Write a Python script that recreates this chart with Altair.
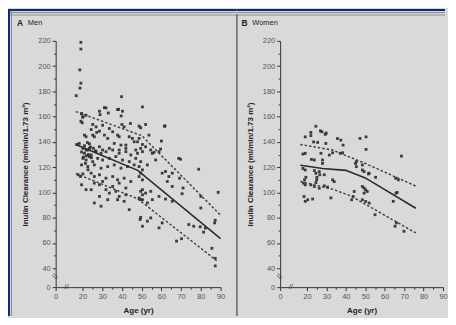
import altair as alt
import pandas as pd

# ---------------- data ----------------
men_age = [18.8, 18.8, 18.0, 18.8, 18.1, 15.3, 39.8, 31.1, 31.9, 50.4, 28.6, 28.9, 33.1, 38.3, 40.3,
           39.6, 19.5, 20.2, 21.8, 18.8, 19.8, 44.3, 25.2, 24.4, 26.9, 28.6, 27.2, 30.2, 33.6, 35.3,
           40.0, 41.1, 48.7, 49.5, 21.0, 21.8, 26.0, 25.2, 31.1, 32.8, 37.8, 38.6, 43.7, 45.3, 48.7,
           47.9, 17.6, 15.7, 36.1, 39.5, 42.0, 46.2, 20.2, 21.8, 23.5, 28.6, 30.2, 33.6, 38.6, 42.0,
           47.0, 49.5, 61.6, 37.8, 19.3, 20.2,
           52.0, 61.8, 53.7, 60.0, 59.6, 50.4, 52.0, 54.6, 56.3,
           19.3, 21.0, 22.7, 24.4, 26.9, 29.4, 31.9, 35.3, 38.6, 42.0, 44.5, 47.9, 50.4,
           20.2, 21.8, 23.5, 25.2, 27.7, 30.2, 33.6, 36.9, 40.3, 43.7, 47.0, 49.5,
           19.3, 22.7, 26.0, 29.4, 32.8, 36.1, 39.5, 42.8, 46.2,
           16.8, 18.5, 20.2, 24.4, 26.0, 28.6, 31.9, 35.3, 37.8, 41.1, 44.5, 48.7, 50.4,
           26.0, 28.6, 30.2, 35.3, 38.6, 42.0, 49.5, 50.4, 19.3, 21.8, 24.4, 31.9, 33.6, 36.9,
           28.6, 32.8, 38.6, 42.0, 26.0, 29.4, 37.8, 41.1, 43.7, 49.2, 48.7, 50.4,
           21.0, 22.5, 23.0, 24.0, 20.5, 22.0, 23.5, 25.5, 21.5, 24.5, 26.5, 22.8,
           48.7, 50.4, 52.9, 49.5, 55.4, 58.8, 57.1, 60.4, 62.1, 63.8, 65.5, 63.0,
           68.8, 69.7, 78.9, 88.8, 69.2, 71.0, 70.5, 80.0, 80.0, 87.3, 87.0,
           73.9, 76.4, 79.7, 82.3, 81.4, 70.2, 67.7, 85.6, 87.3, 87.3, 65.5, 65.5,
           50.4, 52.0, 54.6, 49.5, 52.9, 55.4, 58.8, 62.1, 49.5, 52.9, 54.6, 50.4, 58.8, 60.4]
men_gfr = [218.8, 213.5, 197.0, 186.5, 182.6, 176.6, 175.8, 167.1, 166.9, 167.7, 164.3, 161.6, 162.9, 165.8, 164.3,
           160.6, 162.2, 159.8, 161.1, 156.4, 155.1, 154.6, 153.8, 149.8, 151.9, 148.5, 147.5, 153.2, 150.6, 148.0,
           153.8, 151.9, 152.5, 151.2, 145.4, 144.1, 144.1, 145.4, 145.4, 142.8, 145.4, 144.1, 144.1, 142.8, 142.8,
           140.1, 138.8, 138.0, 138.8, 137.5, 137.5, 140.1, 134.9, 133.6, 134.9, 136.2, 133.6, 134.9, 133.6, 134.9,
           133.6, 134.9, 152.4, 165.6, 162.4, 159.7,
           153.8, 152.7, 145.4, 140.7, 134.4, 138.0, 136.2, 133.6, 131.8,
           132.0, 131.0, 133.6, 129.7, 132.3, 131.0, 132.3, 133.6, 131.0, 132.3, 129.7, 131.0, 132.3,
           127.0, 125.7, 128.4, 124.4, 127.0, 125.7, 127.0, 128.4, 125.7, 124.4, 127.0, 124.4,
           121.8, 120.5, 121.8, 119.2, 120.5, 121.8, 119.2, 120.5, 121.8,
           114.0, 112.6, 114.7, 115.3, 112.6, 114.0, 111.3, 112.6, 110.0, 111.3, 108.7, 112.6, 110.0,
           107.4, 106.1, 108.7, 104.8, 107.4, 103.5, 100.9, 98.2, 106.1, 102.2, 102.2, 102.2, 99.5, 100.9,
           96.9, 94.3, 96.9, 98.2, 91.7, 89.1, 94.3, 93.0, 86.4, 78.6, 95.6, 94.3,
           137.0, 139.5, 130.0, 136.0, 128.0, 129.0, 138.5, 135.0, 123.0, 127.5, 133.0, 118.0,
           120.5, 117.9, 121.8, 115.3, 131.0, 132.3, 125.7, 115.3, 116.6, 112.6, 115.3, 108.7,
           127.0, 126.3, 118.4, 100.1, 111.3, 103.5, 99.0, 96.9, 87.7, 78.0, 75.9,
           74.6, 73.3, 72.8, 71.8, 68.6, 63.4, 61.5, 55.8, 47.9, 41.9, 104.8, 93.0,
           102.2, 99.5, 100.9, 94.3, 91.7, 94.3, 96.9, 94.8, 80.3, 77.3, 79.9, 73.3, 72.0, 75.9]

women_age = [24.6, 22.0, 18.7, 27.7, 29.4, 23.4, 25.5, 29.7, 35.7, 37.4, 38.6, 18.7, 17.0, 27.2, 31.5,
             33.2, 37.1, 38.3, 45.4, 48.5, 22.3, 23.8, 28.0, 28.0, 45.0, 45.4, 49.4, 17.0, 18.7, 23.8,
             24.6, 25.1, 25.0, 24.6, 26.3, 26.6, 28.9, 33.2, 19.2, 18.2, 17.4, 18.7, 22.0, 23.8, 26.3,
             28.9, 30.6, 34.0, 44.3, 43.8, 43.0, 49.4, 49.4, 17.8, 18.7, 20.4, 22.9, 32.3, 26.9, 29.9,
             47.3, 50.4, 50.4, 22.0, 51.6, 55.0, 65.3, 66.0, 64.4, 65.8, 69.9, 68.6, 52.0, 55.3, 48.5,
             65.6, 67.0, 66.4, 48.5, 50.2, 51.0, 48.5, 50.2, 52.0]
women_gfr = [152.4, 147.5, 144.0, 148.0, 146.0, 140.0, 139.6, 138.8, 142.7, 141.4, 137.5, 131.0, 130.4, 131.0, 129.6,
             131.4, 131.0, 131.4, 124.4, 121.8, 126.2, 125.7, 125.7, 123.0, 123.0, 120.4, 116.5, 119.0, 117.8, 117.3,
             115.2, 112.0, 110.0, 107.8, 116.5, 114.0, 114.0, 110.0, 112.0, 110.0, 107.4, 106.0, 106.0, 104.7, 103.4,
             105.2, 104.2, 108.6, 100.8, 96.8, 94.2, 103.4, 99.5, 96.8, 93.0, 94.2, 94.8, 95.7, 148.7, 147.0,
             142.8, 144.0, 134.1, 145.0, 114.7, 82.4, 73.3, 75.9, 93.0, 99.5, 69.3, 128.8, 115.2, 112.0, 117.8,
             111.3, 110.0, 100.0, 104.7, 102.0, 100.8, 94.2, 92.9, 91.6]

# regression line and its limits (solid = fit, dashed = limits)
men_fit_age = [15, 48, 90]
men_fit = [138, 117.5, 63.5]
men_up_age = [15, 50, 90]
men_up = [164, 145, 82]
men_lo_age = [15, 48, 88]
men_lo = [115, 95, 46]

women_fit_age = [15, 28, 40, 50, 76]
women_fit = [121.5, 119, 117.5, 111.5, 87.5]
women_up_age = [15, 33, 50, 76]
women_up = [138, 133.6, 123, 105]
women_lo_age = [15, 33, 43, 48.5, 76]
women_lo = [108.7, 102.7, 97, 92, 68]

x_ticks = [0, 20, 25, 30, 35, 40, 45, 50, 55, 60, 65, 70, 75, 80, 85, 90]
y_ticks = [0, 40, 50, 60, 70, 80, 90, 100, 110, 120, 130, 140, 150, 160, 170, 180, 190, 200, 210, 220]

FONT = "Liberation Sans"
INK = "#2b2b2b"
GRAY_BG = "#d9d9d9"
BLUE = "#0c2a78"


def fit_frame(ages, vals, band):
    return pd.DataFrame({"age": ages, "gfr": vals, "band": band})


def panel(letter, word, pts, fits, x_range, width, rect_x, rect_x2, divider):
    xs = alt.Scale(domain=[0, 20, 90], range=x_range, nice=False, zero=False)
    ys = alt.Scale(domain=[0, 40, 220], range=[248, 229, 0], nice=False, zero=False)
    x_axis = alt.Axis(values=x_ticks, tickCount=40,
                      labelExpr="datum.value % 10 === 0 ? datum.label : ''",
                      title="Age (yr)", grid=False, domainColor="#333", tickColor="#333",
                      tickSize={"condition": {"test": "datum.value % 10 === 0", "value": 3.5}, "value": 2},
                      labelColor="#555", labelFontSize=7.5, labelFont=FONT, labelPadding=2,
                      labelOverlap=False, labelFlush=False,
                      titleFont=FONT, titleFontSize=8, titleFontWeight="bold", titleColor="#222",
                      titlePadding=7, zindex=2)
    y_axis = alt.Axis(values=y_ticks, tickCount=40,
                      labelExpr="datum.value % 20 === 0 ? datum.label : ''",
                      title="Inulin Clearance (ml/min/1.73 m²)", grid=False, domainColor="#333",
                      tickColor="#333",
                      tickSize={"condition": {"test": "datum.value % 20 === 0", "value": 3.5}, "value": 2},
                      labelColor="#555", labelFontSize=7.5, labelFont=FONT, labelPadding=2,
                      labelOverlap=False, labelFlush=False,
                      titleFont=FONT, titleFontSize=8, titleFontWeight="bold", titleColor="#222",
                      titlePadding=8, zindex=2)

    one = alt.Data(values=[{"k": 1}])
    bg = alt.Chart(one).mark_rect(color=GRAY_BG).encode(
        x=alt.value(rect_x), x2=alt.value(rect_x2), y=alt.value(-30), y2=alt.value(277))
    top_strip = alt.Chart(one).mark_rect(color=BLUE).encode(
        x=alt.value(rect_x - (2 if divider is None else 0)), x2=alt.value(rect_x2),
        y=alt.value(-32), y2=alt.value(-30))
    frame1 = alt.Chart(one).mark_rule(color="#8a8a8a", strokeWidth=1).encode(
        x=alt.value(rect_x), x2=alt.value(rect_x2), y=alt.value(-28.5))
    frame2 = alt.Chart(one).mark_rule(color="#8a8a8a", strokeWidth=1).encode(
        x=alt.value(rect_x), x2=alt.value(rect_x2), y=alt.value(-26))
    layers = [bg, top_strip, frame1, frame2]
    if divider is not None:
        layers.append(alt.Chart(one).mark_rule(color="#6a6a6a", strokeWidth=1.6).encode(
            x=alt.value(divider), y=alt.value(-27), y2=alt.value(277)))
    else:
        layers.append(alt.Chart(one).mark_rect(color=BLUE).encode(
            x=alt.value(rect_x - 2), x2=alt.value(rect_x), y=alt.value(-32), y2=alt.value(277)))
        layers.append(alt.Chart(one).mark_rule(color="#8a8a8a", strokeWidth=1).encode(
            x=alt.value(rect_x + 1.5), y=alt.value(-30), y2=alt.value(277)))

    points = alt.Chart(pts).mark_square(size=8, color=INK, opacity=0.9).encode(
        x=alt.X("age:Q", scale=xs, axis=x_axis),
        y=alt.Y("gfr:Q", scale=ys, axis=y_axis))
    solid = alt.Chart(fits).transform_filter("datum.band === 'fit'").mark_line(
        color=INK, strokeWidth=1.6).encode(x=alt.X("age:Q", scale=xs), y=alt.Y("gfr:Q", scale=ys))
    dashed = alt.Chart(fits).transform_filter("datum.band !== 'fit'").mark_line(
        color="#3a3a3a", strokeWidth=1.4, strokeDash=[2.5, 2]).encode(
        x=alt.X("age:Q", scale=xs), y=alt.Y("gfr:Q", scale=ys), detail="band:N")

    brk_x = alt.Chart(one).mark_text(text="//", font=FONT, fontSize=8, color="#444").encode(
        x=alt.datum(8, scale=xs), y=alt.datum(0, scale=ys))
    brk_y = alt.Chart(one).mark_text(text="//", font=FONT, fontSize=8, color="#444", angle=300).encode(
        x=alt.datum(0, scale=xs), y=alt.datum(22, scale=ys))
    t_letter = alt.Chart(one).mark_text(text=letter, font=FONT, fontSize=8.5, fontWeight="bold",
                                        color="#222", align="left", baseline="middle").encode(
        x=alt.value(-39), y=alt.value(-18))
    t_word = alt.Chart(one).mark_text(text=word, font=FONT, fontSize=7.5, color="#222",
                                      align="left", baseline="middle").encode(
        x=alt.value(-28), y=alt.value(-18))

    layers += [points, dashed, solid, brk_x, brk_y, t_letter, t_word]
    return alt.layer(*layers).properties(width=width, height=248)


men_pts = pd.DataFrame({"age": men_age, "gfr": men_gfr})
women_pts = pd.DataFrame({"age": women_age, "gfr": women_gfr})
men_fits = pd.concat([fit_frame(men_fit_age, men_fit, "fit"),
                      fit_frame(men_up_age, men_up, "upper"),
                      fit_frame(men_lo_age, men_lo, "lower")])
women_fits = pd.concat([fit_frame(women_fit_age, women_fit, "fit"),
                        fit_frame(women_up_age, women_up, "upper"),
                        fit_frame(women_lo_age, women_lo, "lower")])

panel_a = panel("A", "Men", men_pts, men_fits, [0, 27, 166], 166, -46, 182, None)
panel_b = panel("B", "Women", women_pts, women_fits, [0, 27, 164], 164, -44, 166, -43.5)

chart = alt.hconcat(panel_a, panel_b, spacing=60, bounds="flush").configure(
    background=GRAY_BG,
    padding=0,
    font=FONT,
).configure_view(strokeWidth=0)

chart.save("out.html", embed_options={"renderer": "svg", "actions": False})
